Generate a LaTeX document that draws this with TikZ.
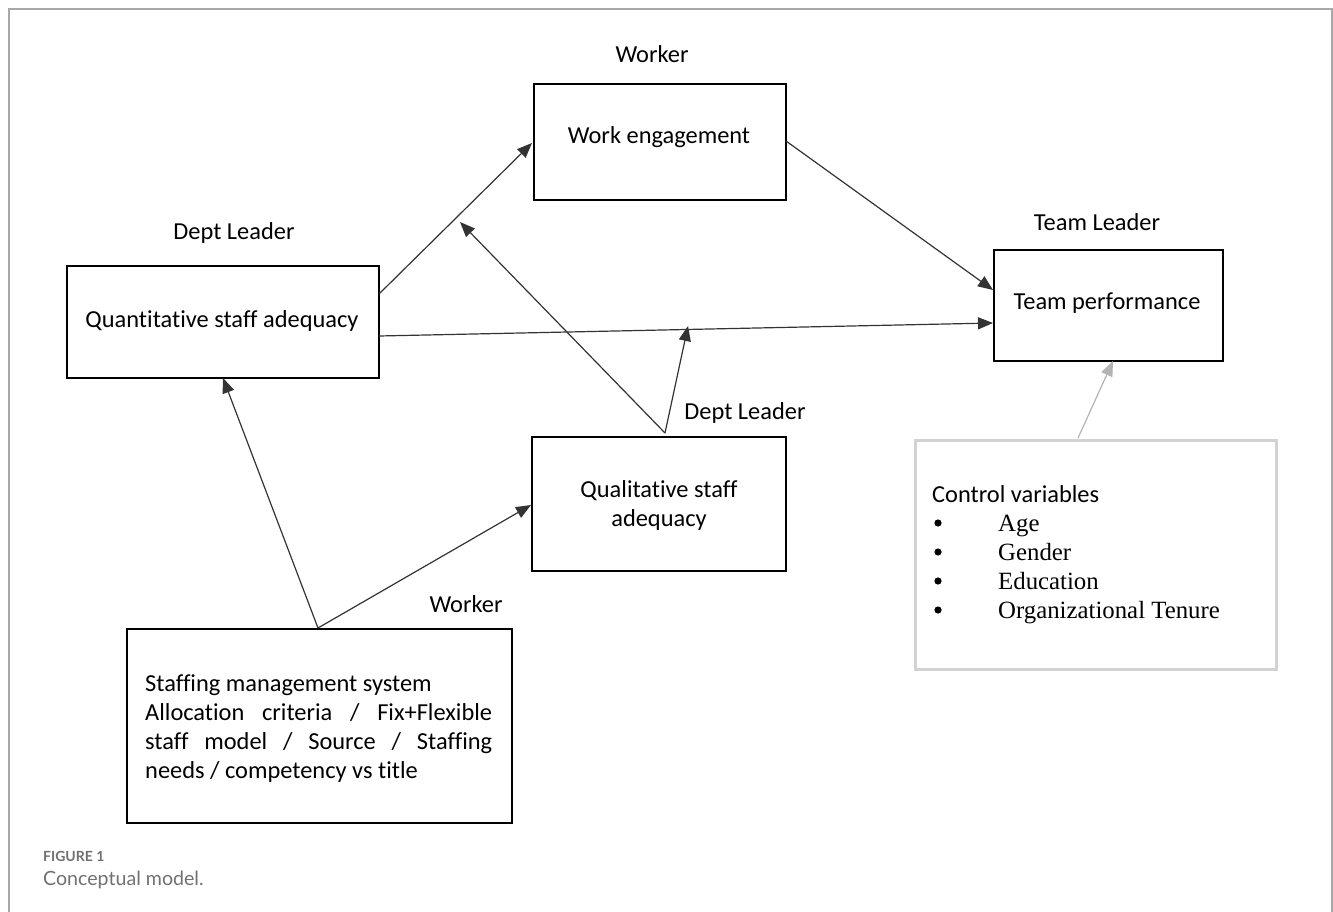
\documentclass[tikz,border=0pt]{standalone}
\usepackage{fontspec}
\setmainfont{Carlito}[Ligatures=CommonOff]
\newfontfamily\serifx{Liberation Serif}
\newfontfamily\capfont{Lato}
\usetikzlibrary{arrows.meta}
\definecolor{framegray}{HTML}{A8A8A8}
\definecolor{ctrlgray}{HTML}{D2D2D2}
\definecolor{ctrlarrow}{HTML}{B4B4B4}
\definecolor{capgray}{HTML}{707070}
\begin{document}
\begin{tikzpicture}[x=1pt,y=-1pt,
  box/.style={draw=black,line width=2pt,inner sep=0pt,anchor=north west},
  lbl/.style={font=\fontsize{24.4}{29}\selectfont,inner sep=0pt},
  link/.style={line width=1.2pt,draw=black!80,-{Triangle[length=15pt,width=12pt]}},
  boxtext/.style={font=\fontsize{24.4}{29}\selectfont,inner sep=0pt,align=center},
  smline/.style={font=\fontsize{24.4}{29}\selectfont,inner sep=0pt,anchor=base west},
  cvline/.style={font=\serifx\fontsize{24.8}{29}\selectfont,inner sep=0pt,anchor=base west}
]
\useasboundingbox (0,0) rectangle (1333,912);
% outer frame
\draw[framegray,line width=2pt] (9,913) -- (9,9) -- (1332,9) -- (1332,913);

% boxes
\node[box,minimum width=252pt,minimum height=116pt] (we) at (533,83) {};
\node[box,minimum width=312pt,minimum height=112pt] (qn) at (66,265) {};
\node[box,minimum width=229pt,minimum height=111pt] (tp) at (993,249) {};
\node[box,minimum width=254pt,minimum height=134pt] (ql) at (531,436) {};
\node[box,minimum width=385pt,minimum height=194pt] (sm) at (126,628) {};
\node[box,draw=ctrlgray,line width=3pt,minimum width=361pt,minimum height=229pt] (cv) at (914,439) {};

% box texts
\node[boxtext] (wet) at (659,137) {Work engagement};
\node[boxtext] (qnt) at (222,321) {Quantitative staff adequacy};
\node[boxtext] (tpt) at (1107,303) {Team performance};
\node[boxtext] (qlt) at (659,505) {Qualitative staff\\adequacy};

% staffing text, justified line by line
\node[smline] (s1) at (145,691) {Staffing management system};
\node[smline] (s2) at (145,720) {\makebox[347pt][s]{Allocation\hfill criteria\hfill /\hfill Fix+Flexible}};
\node[smline] (s3) at (145,749) {\makebox[347pt][s]{staff\hfill model\hfill /\hfill Source\hfill /\hfill Staffing}};
\node[smline] (s4) at (145,778) {needs / competency vs title};

% control variables
\node[smline] (cvt) at (932,502) {Control variables};
\foreach \t [count=\i] in {Age,Gender,Education,Organizational Tenure}{
  \fill (938,523+29*\i-29) circle (3.6pt);
  \node[cvline] (c\i) at (998,531+29*\i-29) {\t};
}

% level labels
\node[lbl] (l1) at (652,54) {Worker};
\node[lbl] (l2) at (234,233) {Dept Leader};
\node[lbl] (l3) at (1097,222) {Team Leader};
\node[lbl] (l4) at (745,413) {Dept Leader};
\node[lbl] (l5) at (466,604) {Worker};

% connector anchor points
\coordinate (qnA) at (379,294);
\coordinate (weIn) at (532,143);
\coordinate (qnB) at (379,336);
\coordinate (tpIn2) at (993,323);
\coordinate (weOut) at (786,141);
\coordinate (tpIn1) at (993,290);
\coordinate (qlTop) at (665,433);
\coordinate (mod1) at (460,222);
\coordinate (mod2) at (688,326);
\coordinate (smTop) at (318,628);
\coordinate (qnIn) at (223,378);
\coordinate (qlIn) at (531,505);
\coordinate (cvTop) at (1078,438);
\coordinate (tpIn3) at (1113,361);

% connectors
\draw[link] (qnA) -- (weIn);
\draw[link] (qnB) -- (tpIn2);
\draw[link] (weOut) -- (tpIn1);
\draw[link] (qlTop) -- (mod1);
\draw[link] (qlTop) -- (mod2);
\draw[link] (smTop) -- (qnIn);
\draw[link] (smTop) -- (qlIn);
\draw[link,draw=ctrlarrow,fill=ctrlarrow] (cvTop) -- (tpIn3);

% caption
\node[anchor=base west,inner sep=0pt,text=capgray,font=\capfont\bfseries\fontsize{14}{16}\selectfont] (fig) at (43,861) {FIGURE 1};
\node[anchor=base west,inner sep=0pt,text=capgray,font=\capfont\fontsize{19.6}{22}\selectfont] (cap) at (43,885) {Conceptual model.};
\end{tikzpicture}
\end{document}
